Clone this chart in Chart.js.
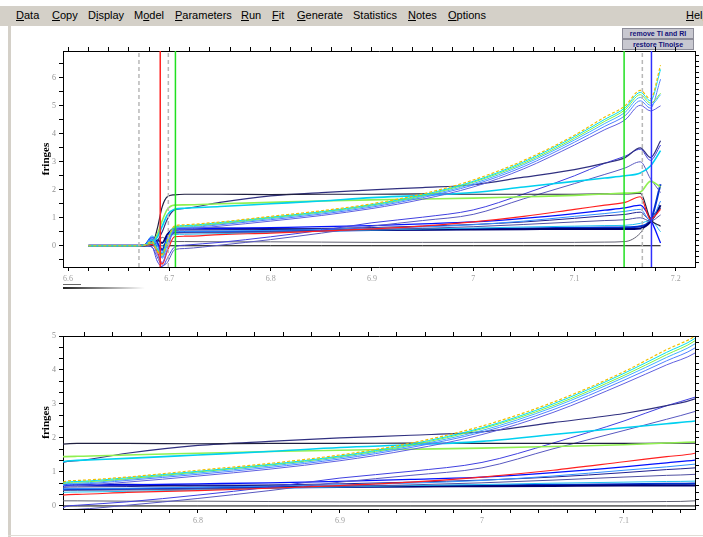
<!DOCTYPE html>
<html>
<head>
<meta charset="utf-8">
<title>fringes</title>
<script src="https://cdn.jsdelivr.net/npm/chart.js@4.4.0/dist/chart.umd.min.js"></script>
<style>
body { margin:0; width:703px; height:537px; background:#fff; position:relative; overflow:hidden; font-family:"Liberation Sans", Arial, sans-serif; }
.menubar { position:absolute; left:0; top:6px; width:703px; height:20px; background:#d4d0c8; }
.menubar span { position:absolute; top:3px; font-size:11px; color:#000; white-space:nowrap; }
.frame { position:absolute; left:8px; top:26px; width:3px; height:511px; background:#d4d0c8; }
.bottomline { position:absolute; left:8px; top:535px; width:695px; height:1px; background:#e0ddd6; }
.btn { position:absolute; left:622px; width:70px; height:9px; background:#c8c8d0; border:1px solid #8c8c98; color:#14147a; font-size:7px; font-weight:bold; line-height:9px; text-align:center; white-space:nowrap; }
.plot { position:absolute; left:38px; width:665px; }
.bar1 { position:absolute; left:63px; top:284px; width:18px; height:1px; background:#666; }
.bar2 { position:absolute; left:63px; top:287px; width:82px; height:2px; background:linear-gradient(to right,#222,#fff); }
</style>
</head>
<body>
<div class="menubar">
  <span style="left:16px"><u>D</u>ata</span>
  <span style="left:52px"><u>C</u>opy</span>
  <span style="left:88px">D<u>i</u>splay</span>
  <span style="left:134px">M<u>o</u>del</span>
  <span style="left:175px"><u>P</u>arameters</span>
  <span style="left:241px"><u>R</u>un</span>
  <span style="left:272px"><u>F</u>it</span>
  <span style="left:297px"><u>G</u>enerate</span>
  <span style="left:353px">Statistics</span>
  <span style="left:408px"><u>N</u>otes</span>
  <span style="left:448px"><u>O</u>ptions</span>
  <span style="left:686px"><u>H</u>elp</span>
</div>
<div class="frame"></div>
<div class="bottomline"></div>
<div class="btn" style="top:28px">remove TI and RI</div>
<div class="btn" style="top:39px">restore TInoise</div>
<div class="plot" style="top:40px;height:260px"><canvas id="topChart"></canvas></div>
<div class="bar1"></div><div class="bar2"></div>
<div class="plot" style="top:325px;height:210px"><canvas id="zoomChart"></canvas></div>
<script>
// wavelength positions shared by all curves
const xs = [6.62, 6.665, 6.675, 6.683, 6.688, 6.693, 6.698, 6.705, 6.715, 6.75, 6.80, 6.85, 6.90, 6.95, 7.00, 7.05, 7.10, 7.13, 7.15, 7.165, 7.175, 7.185]

// fringe curves
const r1 = [0, 0, 0.02, 0.15, -0.2, -0.3, 0.2, 0.7, 0.75, 0.85, 1.05, 1.25, 1.5, 1.85, 2.35, 3.05, 3.95, 4.6, 5.0, 5.55, 5.25, 6.45]
const r2 = [0, 0, 0.01, 0.2, -0.1, -0.25, 0.25, 0.68, 0.72, 0.83, 1.02, 1.22, 1.47, 1.82, 2.3, 3.0, 3.9, 4.52, 4.93, 5.48, 5.18, 6.3]
const r3 = [0, 0, 0.02, 0.1, -0.15, -0.35, 0.15, 0.66, 0.7, 0.8, 1.0, 1.2, 1.45, 1.79, 2.27, 2.95, 3.84, 4.45, 4.86, 5.4, 5.1, 5.45]
const r4 = [0, 0, 0.01, 0.25, 0.0, -0.4, 0.1, 0.63, 0.67, 0.78, 0.97, 1.17, 1.42, 1.76, 2.22, 2.9, 3.78, 4.37, 4.77, 5.3, 5.02, 5.4]
const r5 = [0, 0, 0.02, 0.3, 0.05, -0.45, 0.05, 0.6, 0.64, 0.75, 0.93, 1.13, 1.38, 1.72, 2.17, 2.83, 3.7, 4.27, 4.65, 5.18, 4.92, 5.95]
const r6 = [0, 0, 0.03, 0.1, -0.3, -0.6, -0.1, 0.55, 0.6, 0.7, 0.88, 1.08, 1.33, 1.66, 2.1, 2.75, 3.6, 4.15, 4.5, 5.02, 4.82, 5.0]
const cyanB = [0, 0, 0.01, 0.08, 0.3, 0.7, 1.1, 1.3, 1.34, 1.4, 1.5, 1.6, 1.72, 1.8, 1.9, 2.1, 2.3, 2.42, 2.5, 2.6, 2.85, 3.4]
const greenB = [0, 0, 0.02, 0.1, 0.4, 0.9, 1.3, 1.45, 1.46, 1.5, 1.55, 1.6, 1.64, 1.67, 1.7, 1.75, 1.8, 1.85, 1.88, 1.92, 2.3, 2.1]
const black1 = [0, 0, 0, 0.05, 0.6, 1.4, 1.75, 1.82, 1.84, 1.84, 1.83, 1.84, 1.84, 1.85, 1.84, 1.84, 1.84, 1.85, 1.85, 1.88, 0.95, 0.7]
const navy1 = [0, 0, 0, 0.02, 0.15, 0.5, 0.95, 1.28, 1.33, 1.55, 1.78, 1.9, 2.0, 2.08, 2.18, 2.45, 2.72, 2.95, 3.15, 3.5, 3.15, 3.75]
const blue1 = [0, 0, 0, -0.05, -0.55, -0.75, -0.45, -0.05, 0.02, 0.12, 0.32, 0.55, 0.82, 1.02, 1.28, 1.85, 2.5, 2.95, 3.2, 3.45, 3.05, 3.6]
const blue2 = [0, 0, 0, -0.05, -0.4, -0.7, -0.6, -0.15, -0.1, 0.02, 0.22, 0.45, 0.7, 0.9, 1.12, 1.68, 2.22, 2.55, 2.78, 3.0, 2.4, 1.9]
const red1 = [0, 0, 0, 0.05, -0.2, -0.65, -0.2, 0.32, 0.34, 0.4, 0.45, 0.52, 0.6, 0.7, 0.85, 1.05, 1.3, 1.45, 1.55, 1.75, 0.95, 1.3]
const c1 = [0, 0, 0.02, 0.3, 0.1, -0.3, 0.3, 0.6, 0.61, 0.62, 0.65, 0.68, 0.72, 0.78, 0.85, 0.98, 1.15, 1.27, 1.35, 1.45, 0.95, 0.1]
const c2 = [0, 0, 0.01, 0.2, 0.0, -0.2, 0.2, 0.5, 0.51, 0.52, 0.55, 0.58, 0.62, 0.67, 0.75, 0.88, 1.05, 1.15, 1.23, 1.3, 0.9, 1.6]
const c3 = [0, 0, 0, 0.15, 0.05, -0.1, 0.3, 0.55, 0.56, 0.57, 0.6, 0.62, 0.65, 0.7, 0.76, 0.85, 0.98, 1.07, 1.12, 1.2, 0.92, 1.35]
const c4 = [0, 0, 0.02, 0.25, -0.1, -0.4, 0.1, 0.45, 0.46, 0.47, 0.5, 0.53, 0.57, 0.62, 0.68, 0.76, 0.85, 0.9, 0.93, 1.0, 0.88, 1.1]
const c5 = [0, 0, 0.03, 0.35, 0.2, 0.0, 0.25, 0.4, 0.41, 0.43, 0.47, 0.52, 0.56, 0.6, 0.63, 0.67, 0.7, 0.72, 0.73, 0.8, 0.9, 0.5]
const c6 = [0, 0, 0, 0.1, 0.2, 0.1, 0.4, 0.62, 0.62, 0.62, 0.6, 0.58, 0.57, 0.57, 0.58, 0.59, 0.6, 0.6, 0.6, 0.62, 0.85, 1.45]
const c7 = [0, 0, 0.01, 0.2, 0.1, -0.15, 0.2, 0.48, 0.49, 0.5, 0.52, 0.54, 0.56, 0.58, 0.6, 0.62, 0.64, 0.65, 0.66, 0.7, 0.9, 2.2]
const gray1 = [0, 0, 0, 0.05, 0.1, 0.3, 0.2, 0.15, 0.15, 0.14, 0.14, 0.13, 0.12, 0.12, 0.12, 0.12, 0.12, 0.13, 0.15, 0.45, 1.0, 1.35]
const zero = [0, 0, 0, 0, 0, 0, 0, 0, 0, 0, 0, 0, 0, 0, 0, 0, 0, 0, 0, 0, 0, 0]

// vertical cursor lines on the overview
const markerX = [6.670, 6.691, 6.699, 6.706, 7.149, 7.167, 7.176]

const series = [
  [r1, '#f0c000', 1.2, [3, 2]],
  [r2, '#00e0f0', 1, []],
  [r3, '#80f040', 1, []],
  [r4, '#40b0ff', 1, []],
  [r5, '#5080ff', 1, []],
  [r6, '#6060e0', 1, []],
  [red1, '#ff2020', 1.2, []],
  [cyanB, '#00d0f0', 1.6, []],
  [greenB, '#90f050', 1.6, []],
  [black1, '#202040', 1.2, []],
  [navy1, '#303080', 1.2, []],
  [blue1, '#4040e0', 1, []],
  [blue2, '#5858c0', 1, []],
  [c1, '#0010ff', 1.3, []],
  [c2, '#3090ff', 1, []],
  [c3, '#202090', 1, []],
  [c4, '#5050a0', 1, []],
  [c5, '#20c0f0', 1, []],
  [c6, '#000070', 2, []],
  [c7, '#0030d0', 2, []],
  [gray1, '#606070', 1, []],
  [zero, '#000000', 1, []]
]
const markerStyle = [
  ['#b8b8b8', [4, 3]], ['#ff2020', []], ['#b8b8b8', [4, 3]], ['#20e020', []],
  ['#20e020', []], ['#b8b8b8', [4, 3]], ['#3030ff', []]
]

function curveSets() {
  return series.map(([vals, color, w, dash]) => ({
    data: xs.map((x, i) => ({x: x, y: vals[i]})),
    borderColor: color,
    borderWidth: w,
    borderDash: dash,
    pointRadius: 0,
    cubicInterpolationMode: 'monotone',
    fill: false
  }))
}

function markerSets(yMin, yMax) {
  return markerX.map((x, i) => ({
    data: [{x: x, y: yMin}, {x: x, y: yMax}],
    borderColor: markerStyle[i][0],
    borderDash: markerStyle[i][1],
    borderWidth: 1.5,
    pointRadius: 0,
    fill: false
  }))
}

const tickFont = {family: 'Liberation Serif', size: 8}
const axisGrid = {drawOnChartArea: false, drawTicks: true, tickLength: 4, color: '#000'}
const axisBorder = {display: true, color: '#000', width: 1}

function xLabel(v) {
  return Math.abs(v * 10 - Math.round(v * 10)) < 1e-6 ? String(Math.round(v * 10) / 10) : ''
}
function yLabel(v) {
  return Math.abs(v - Math.round(v)) < 1e-6 ? String(Math.round(v)) : ''
}

function makeChart(id, xMin, xMax, yMin, yMax, yStep, bottomH, withMarkers) {
  const sets = withMarkers ? markerSets(yMin, yMax).concat(curveSets()) : curveSets()
  return new Chart(document.getElementById(id), {
    type: 'line',
    data: {datasets: sets},
    options: {
      responsive: true,
      maintainAspectRatio: false,
      animation: false,
      layout: {padding: 0},
      plugins: {legend: {display: false}, tooltip: {enabled: false}},
      scales: {
        x: {
          type: 'linear', position: 'bottom', min: xMin, max: xMax,
          grid: axisGrid, border: axisBorder,
          ticks: {stepSize: 0.02, includeBounds: false, autoSkip: false, maxRotation: 0,
                  color: '#a0a0a0', font: tickFont, padding: 3, callback: xLabel},
          afterFit: s => { s.height = bottomH }
        },
        x2: {
          type: 'linear', position: 'top', min: xMin, max: xMax,
          grid: axisGrid, border: axisBorder,
          ticks: {stepSize: 0.02, includeBounds: false, autoSkip: false, callback: () => ''},
          afterFit: s => { s.height = 11 }
        },
        y: {
          type: 'linear', position: 'left', min: yMin, max: yMax,
          grid: axisGrid, border: axisBorder,
          ticks: {stepSize: yStep, includeBounds: false, autoSkip: false,
                  color: '#909090', font: tickFont, padding: 3, callback: yLabel},
          title: {display: true, text: 'fringes', color: '#000',
                  font: {family: 'Liberation Serif', size: 11, weight: 'bold'},
                  padding: {top: 2, bottom: 0}},
          afterFit: s => { s.width = 25 }
        },
        y2: {
          type: 'linear', position: 'right', min: yMin, max: yMax,
          grid: axisGrid, border: axisBorder,
          ticks: {stepSize: 0.2, includeBounds: false, autoSkip: false, callback: () => ''},
          afterFit: s => { s.width = 8 }
        }
      }
    }
  })
}

makeChart('topChart', 6.595, 7.219, -0.76, 6.96, 0.5, 33, true)
makeChart('zoomChart', 6.705, 7.15, -0.09, 5.0, 1 / 3, 26, false)
</script>
</body>
</html>
